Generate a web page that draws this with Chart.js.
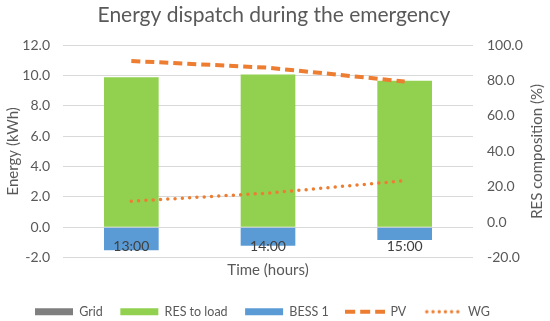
<!DOCTYPE html>
<html>
<head>
<meta charset="utf-8">
<script src="https://cdn.jsdelivr.net/npm/chart.js@4/dist/chart.umd.min.js"></script>
<style>
  html, body { margin: 0; padding: 0; background: #ffffff; }
  #wrap { width: 550px; height: 321px; position: relative; }
</style>
</head>
<body>
<div id="wrap"><canvas id="c" width="550" height="321"></canvas></div>
<script>
// ---- data ----
const categories = ["13:00", "14:00", "15:00"];
const gridValues = [0, 0, 0];
const resToLoad = [9.88, 10.06, 9.65];
const bess1 = [-1.52, -1.23, -0.85];
const pvShare = [91.1, 87.3, 79.5];
const wgShare = [11.8, 16.4, 23.4];
const leftTicks = [-2, 0, 2, 4, 6, 8, 10, 12];
const rightTicks = [-20, 0, 20, 40, 60, 80, 100];

const FONT = "Lato";
const TXT = "#595959";
const GRID = "#d9d9d9";
const ORANGE = "#ed7d31";

function legendIcon(kind) {
  const cv = document.createElement('canvas');
  cv.width = 40; cv.height = 8;
  const g = cv.getContext('2d');
  g.strokeStyle = ORANGE; g.fillStyle = ORANGE;
  if (kind === 'dash') {
    g.lineWidth = 4;
    g.setLineDash([10, 5]);
    g.beginPath(); g.moveTo(0, 4); g.lineTo(40, 4); g.stroke();
  } else {
    for (let i = 0; i < 6; i++) {
      g.beginPath(); g.arc(4 + i * 6.2, 4, 1.7, 0, Math.PI * 2); g.fill();
    }
  }
  return cv;
}
const pvIcon = legendIcon('dash');
const wgIcon = legendIcon('dot');

const rightTitlePlugin = {
  id: 'rightTitle',
  afterLayout(chart) {
    if (chart.titleBlock) { chart.titleBlock.left = 0; chart.titleBlock.right = 548; }
  },
  afterDraw(chart) {
    const ctx = chart.ctx;
    const area = chart.chartArea;
    ctx.save();
    ctx.font = "15px " + FONT;
    ctx.fillStyle = TXT;
    ctx.textAlign = 'center';
    ctx.textBaseline = 'middle';
    ctx.translate(537, (area.top + area.bottom) / 2);
    ctx.rotate(-Math.PI / 2);
    ctx.fillText("RES composition (%)", 0, 0);
    ctx.restore();
  }
};

new Chart(document.getElementById('c'), {
  type: 'bar',
  data: {
    labels: categories,
    datasets: [
      { label: 'Grid', data: gridValues, backgroundColor: '#7f7f7f', borderColor: '#7f7f7f', borderWidth: 0, yAxisID: 'y', order: 1, stack: 's' },
      { label: 'RES to load', data: resToLoad, backgroundColor: '#92d050', borderColor: '#92d050', borderWidth: 0, yAxisID: 'y', order: 1, stack: 's' },
      { label: 'BESS 1', data: bess1, backgroundColor: '#5b9bd5', borderColor: '#5b9bd5', borderWidth: 0, yAxisID: 'y', order: 1, stack: 's' },
      { type: 'line', label: 'PV', data: pvShare, borderColor: ORANGE, backgroundColor: ORANGE, borderWidth: 4, borderDash: [9, 5], borderCapStyle: 'butt', pointRadius: 0, yAxisID: 'y2', order: 0, tension: 0 },
      { type: 'line', label: 'WG', data: wgShare, borderColor: ORANGE, backgroundColor: ORANGE, borderWidth: 3.5, borderDash: [0, 7.3], borderCapStyle: 'round', pointRadius: 0, yAxisID: 'y2', order: 0, tension: 0 }
    ]
  },
  options: {
    responsive: false,
    animation: false,
    layout: { padding: { left: 0, right: 25, top: 0, bottom: -7 } },
    datasets: { bar: { barPercentage: 0.4, categoryPercentage: 1.0 } },
    plugins: {
      title: {
        display: true,
        text: 'Energy dispatch during the emergency',
        color: TXT,
        font: { family: FONT, size: 21, weight: 'normal' },
        padding: { top: 3, bottom: 17 }
      },
      legend: {
        position: 'bottom',
        labels: {
          usePointStyle: true,
          pointStyleWidth: 38,
          boxHeight: 7,
          padding: 17.5,
          color: TXT,
          font: { family: FONT, size: 12.5 },
          sort: (a, b) => a.datasetIndex - b.datasetIndex,
          generateLabels: (chart) => {
            const items = Chart.defaults.plugins.legend.labels.generateLabels(chart);
            items.forEach(it => {
              if (it.datasetIndex === 3) it.pointStyle = pvIcon;
              else if (it.datasetIndex === 4) it.pointStyle = wgIcon;
              else it.pointStyle = 'rect';
            });
            return items;
          }
        }
      },
      tooltip: { enabled: false }
    },
    scales: {
      x: {
        type: 'category',
        position: 'bottom',
        stacked: true,
        offset: true,
        grid: { display: false, drawTicks: false },
        border: { display: false },
        ticks: { display: false },
        title: { display: true, text: 'Time (hours)', color: TXT, font: { family: FONT, size: 15 }, padding: { top: 4, bottom: 8.5 } }
      },
      x2: {
        type: 'category',
        position: { y: 0 },
        offset: true,
        grid: { display: false, drawTicks: false },
        border: { display: false },
        ticks: { color: '#404040', font: { family: FONT, size: 14 }, padding: 11, z: 1 }
      },
      y: {
        position: 'left',
        stacked: true,
        min: -2, max: 12,
        afterBuildTicks: (s) => { s.ticks = leftTicks.map(v => ({ value: v })); },
        afterFit: (s) => { s.width = 63; },
        grid: { color: GRID, lineWidth: 1, drawTicks: false },
        border: { display: false },
        ticks: { color: TXT, font: { family: FONT, size: 14 }, padding: 13, callback: (v) => Number(v).toFixed(1) },
        title: { display: true, text: 'Energy (kWh)', color: TXT, font: { family: FONT, size: 15 }, padding: { top: 4, bottom: 4 } }
      },
      y2: {
        position: 'right',
        min: -20, max: 100,
        afterBuildTicks: (s) => { s.ticks = rightTicks.map(v => ({ value: v })); },
        afterFit: (s) => { s.width = 52; },
        grid: { display: false, drawTicks: false },
        border: { display: false },
        ticks: { color: TXT, font: { family: FONT, size: 14 }, padding: 14, callback: (v) => Number(v).toFixed(1) }
      }
    }
  },
  plugins: [rightTitlePlugin]
});
</script>
</body>
</html>
